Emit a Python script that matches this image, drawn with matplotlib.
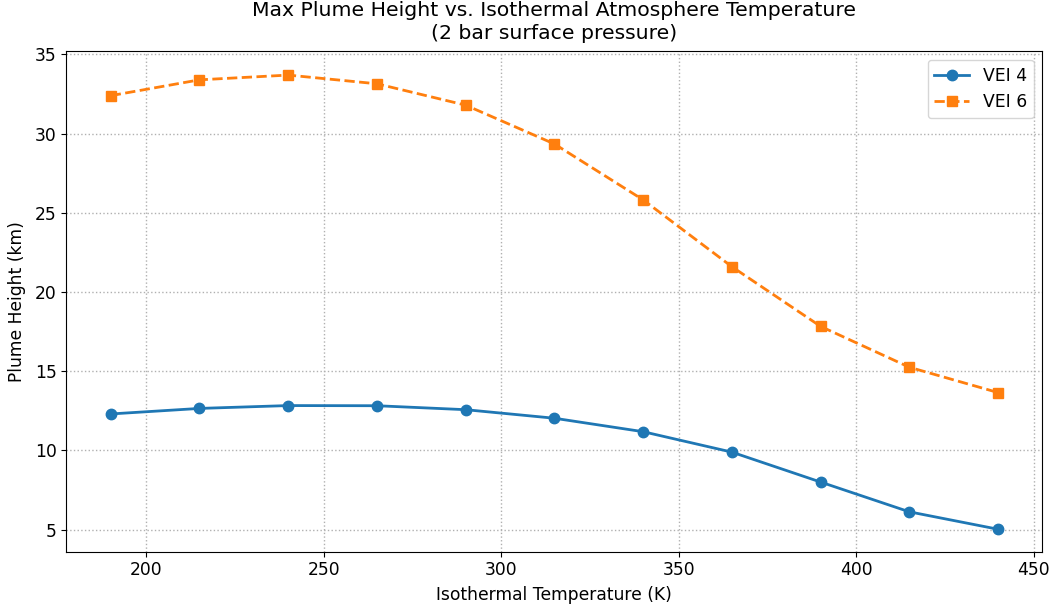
import numpy as np
import matplotlib.pyplot as plt

# isothermal temperature (K)
temps = [190, 215, 240, 265, 290, 315, 340, 365, 390, 415, 440]
# max plume height (km)
vei4 = [12.3, 12.65, 12.83, 12.82, 12.57, 12.03, 11.18, 9.89, 8.0, 6.12, 5.02]
vei6 = [32.4, 33.4, 33.7, 33.15, 31.8, 29.35, 25.82, 21.6, 17.83, 15.25, 13.65]

fig, ax = plt.subplots(figsize=(10.53, 6.11), dpi=100)

ax.plot(temps, vei4, '-o', color='#1f77b4', linewidth=2, markersize=7.5, label='VEI 4')
ax.plot(temps, vei6, '--s', color='#ff7f0e', linewidth=2, markersize=7.5, label='VEI 6')

ax.set_title('Max Plume Height vs. Isothermal Atmosphere Temperature\n(2 bar surface pressure)',
             fontsize=14.7, pad=9, linespacing=1.25)
ax.set_xlabel('Isothermal Temperature (K)', fontsize=12.3, labelpad=5)
ax.set_ylabel('Plume Height (km)', fontsize=12.3, labelpad=6)
ax.tick_params(labelsize=12.3)
ax.set_xlim(177.5, 452.5)
ax.set_ylim(3.6, 35.2)
ax.grid(True, linestyle=':', color='#b0b0b0', linewidth=1)
ax.legend(loc='upper right', fontsize=12.4)

plt.subplots_adjust(left=0.063, right=0.99, bottom=0.097, top=0.916)
plt.savefig('out.png')
